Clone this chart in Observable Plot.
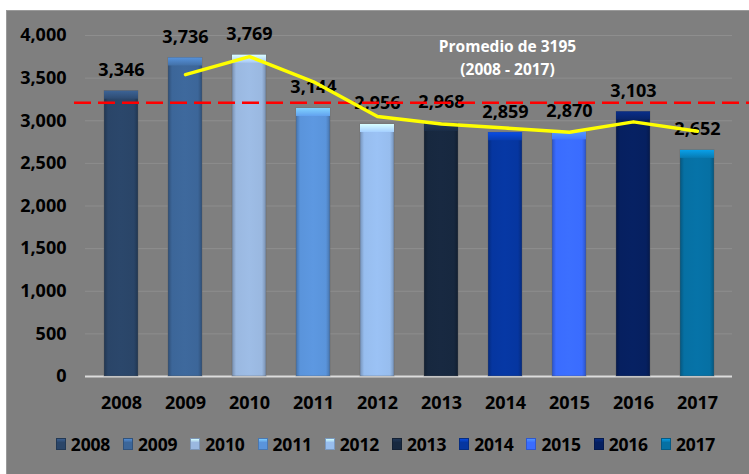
<!DOCTYPE html>
<html>
<head>
<meta charset="utf-8">
<script src="https://cdn.jsdelivr.net/npm/d3@7"></script>
<script src="https://cdn.jsdelivr.net/npm/@observablehq/plot@0.6"></script>
<style>
  html, body { margin: 0; padding: 0; background: #ffffff; width: 749px; height: 474px; overflow: hidden; }
  #panel { position: absolute; left: 6px; top: 10px; width: 743px; height: 464px; background: #7f7f7f; box-shadow: inset 1px 1px 0 #9a9a9a; font-family: "Open Sans", Lato, sans-serif; }
  #chart svg { display: block; }
  #legend { display: flex; justify-content: center; align-items: center; height: 48px; padding-left: 16px; box-sizing: border-box; }
  .item { display: flex; align-items: center; margin-right: 13px; font-weight: bold; font-size: 17.5px; color: #000; letter-spacing: -0.2px; }
  .item:last-child { margin-right: 0; }
  .sw { width: 10px; height: 12px; margin-right: 5px; }
</style>
</head>
<body>
<div id="panel">
  <div id="chart"></div>
  <div id="legend"></div>
</div>
<script>
const years = ["2008", "2009", "2010", "2011", "2012", "2013", "2014", "2015", "2016", "2017"];
const values = [3346, 3736, 3769, 3144, 2956, 2968, 2859, 2870, 3103, 2652];
const barColors = ["#2a4568", "#3c6699", "#9ab8e0", "#5a94db", "#97bdee", "#17283f", "#0636a0", "#3a6cff", "#062060", "#0670a3"];
const trendYears = ["2009", "2010", "2011", "2012", "2013", "2014", "2015", "2016", "2017"];
const trendValues = [3541, 3752, 3457, 3050, 2962, 2914, 2865, 2987, 2878];
const averageLine = 3212;
const yTicks = [0, 500, 1000, 1500, 2000, 2500, 3000, 3500, 4000];
const noteLines = ["Promedio de 3195", "(2008 - 2017)"];
const noteYear = "2014";
const noteValue = 3760;

const bars = years.map((year, i) => ({year, value: values[i], fill: `url(#bar${i})`, cap: `url(#cap${i})`}));
const trend = trendYears.map((year, i) => ({year, value: trendValues[i]}));
const fmt = d3.format(",");

const svg = Plot.plot({
  width: 743,
  height: 410,
  marginLeft: 79,
  marginRight: 17,
  marginTop: 25,
  marginBottom: 44,
  style: {background: "transparent", fontFamily: "'Open Sans', Lato, sans-serif", overflow: "visible"},
  x: {domain: years, paddingInner: 0.475, paddingOuter: 0.2375, align: 0.5},
  y: {domain: [0, 4000]},
  color: {type: "identity"},
  marks: [
    Plot.gridY(yTicks.filter(d => d > 0), {stroke: "#8e8e8e", strokeOpacity: 1, strokeWidth: 1}),
    Plot.ruleY([0], {stroke: "#dcdcdc", strokeWidth: 2}),
    Plot.axisY({ticks: yTicks, tickFormat: fmt, tickSize: 0, tickPadding: 19, label: null, fontSize: 18, fontWeight: "bold", fill: "#000"}),
    Plot.axisX({tickSize: 0, tickPadding: 20, label: null, fontSize: 18, fontWeight: "bold", fill: "#000"}),
    Plot.barY(bars, {x: "year", y: "value", fill: "fill", stroke: "#555", strokeOpacity: 0.35, strokeWidth: 1}),
    Plot.barY(bars, {x: "year", y1: "value", y2: "value", insetBottom: -8, fill: "cap"}),
    Plot.text(bars, {x: "year", y: "value", text: d => fmt(d.value), dy: -21, fontSize: 18, fontWeight: "bold", fill: "#000"}),
    Plot.ruleY([averageLine], {stroke: "#ff0000", strokeWidth: 2.5, strokeDasharray: "17,7", insetLeft: -11, insetRight: -17}),
    Plot.line(trend, {x: "year", y: "value", stroke: "#ffff00", strokeWidth: 3.5}),
    Plot.text([noteLines.join("\n")], {x: () => noteYear, y: () => noteValue, dx: 2, fill: "#ffffff", fontSize: 15.5, fontWeight: "bold", lineHeight: 1.5})
  ]
});

const defs = d3.select(svg).insert("defs", ":first-child");
barColors.forEach((c, i) => {
  const base = d3.color(c);
  const g = defs.append("linearGradient").attr("id", `bar${i}`).attr("x1", 0).attr("x2", 1).attr("y1", 0).attr("y2", 0);
  g.append("stop").attr("offset", "0%").attr("stop-color", base.darker(0.7).formatHex());
  g.append("stop").attr("offset", "12%").attr("stop-color", base.formatHex());
  g.append("stop").attr("offset", "50%").attr("stop-color", base.brighter(0.08).formatHex());
  g.append("stop").attr("offset", "88%").attr("stop-color", base.formatHex());
  g.append("stop").attr("offset", "100%").attr("stop-color", base.darker(0.7).formatHex());
  const cg = defs.append("linearGradient").attr("id", `cap${i}`).attr("x1", 0).attr("x2", 0).attr("y1", 0).attr("y2", 1);
  cg.append("stop").attr("offset", "0%").attr("stop-color", base.brighter(1.0).formatHex());
  cg.append("stop").attr("offset", "100%").attr("stop-color", base.brighter(0.25).formatHex());
});
document.getElementById("chart").appendChild(svg);

const legend = d3.select("#legend");
years.forEach((y, i) => {
  const c = d3.color(barColors[i]);
  const item = legend.append("div").attr("class", "item");
  item.append("div").attr("class", "sw")
    .style("background", `linear-gradient(to bottom, ${c.brighter(0.9).formatHex()} 0%, ${c.formatHex()} 35%, ${c.formatHex()} 100%)`)
    .style("border", `1px solid ${c.darker(0.6).formatHex()}`)
    .style("box-sizing", "border-box");
  item.append("span").text(y);
});
</script>
</body>
</html>
